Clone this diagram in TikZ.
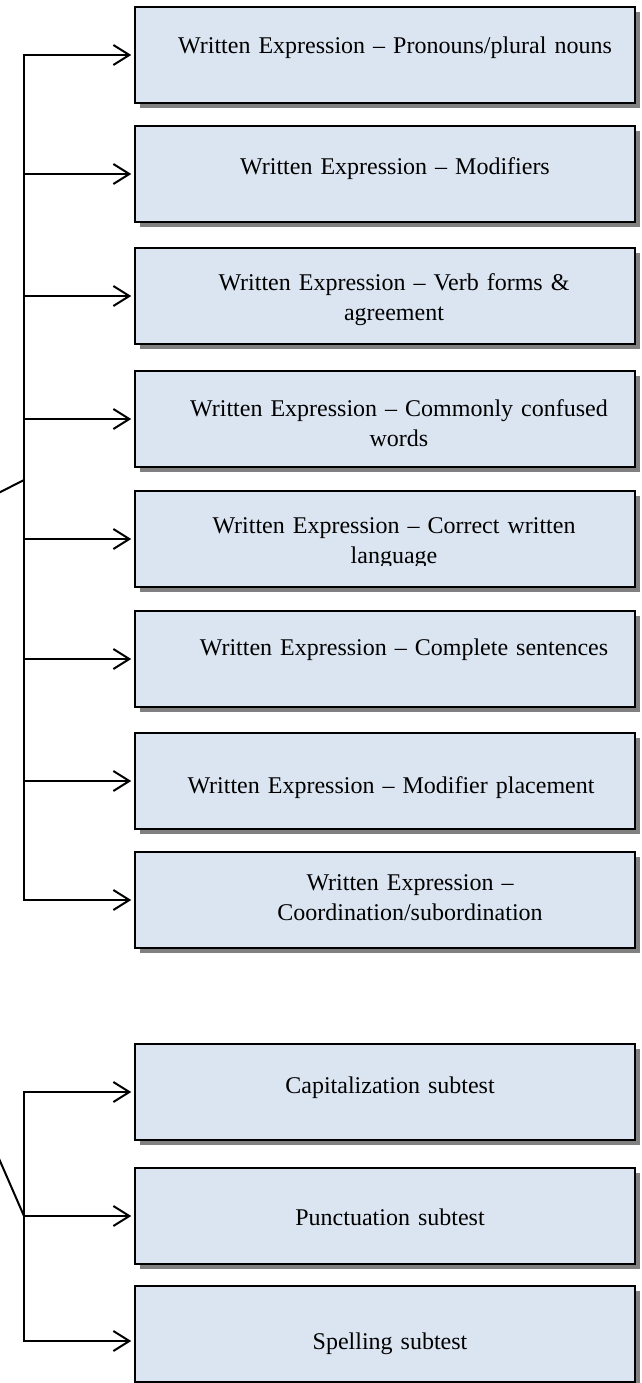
\documentclass[tikz,border=0pt]{standalone}
\usepackage{fontspec}
\setmainfont{Liberation Serif}
\usetikzlibrary{arrows.meta,shadows}

\definecolor{boxblue}{RGB}{219,229,241}
\definecolor{shadowgray}{RGB}{128,128,128}

\tikzset{
  box/.style={draw=black, line width=1.5pt, fill=boxblue,
    minimum width=500pt, minimum height=96pt, inner sep=0pt,
    drop shadow={shadow xshift=5pt, shadow yshift=-5pt, fill=shadowgray, opacity=1}},
  txt/.style={font=\fontsize{24}{30}\selectfont, text width=490pt,
    align=center, anchor=base, inner sep=0pt},
  link/.style={line width=2pt, line join=miter},
  arr/.style={link, shorten >=3pt,
    -{Straight Barb[length=16pt,width=20pt,line width=2pt]}},
}

\begin{document}
\begin{tikzpicture}[x=1pt,y=-1pt]
\useasboundingbox (0,0) rectangle (642,1383);

% ---- upper group: written expression boxes
\node[box] (b1) at (385,55)  {};
\node[box] (b2) at (385,174) {};
\node[box] (b3) at (385,296) {};
\node[box] (b4) at (385,419) {};
\node[box] (b5) at (385,539) {};
\node[box] (b6) at (385,659) {};
\node[box] (b7) at (385,781) {};
\node[box] (b8) at (385,900) {};

\node[txt] (t1) at (395,54)  {Written Expression – Pronouns/plural nouns};
\node[txt] (t2) at (395,175) {Written Expression – Modifiers};
\node[txt] (t3) at (394,290) {Written Expression – Verb forms \&\\agreement};
\node[txt] (t4) at (399,416) {Written Expression – Commonly confused\\words};
\begin{scope}
  \clip (135,490) rectangle (635,565);
  \node[txt] (t5) at (394,533) {Written Expression – Correct written\\language};
\end{scope}
\node[txt] (t6) at (404,655) {Written Expression – Complete sentences};
\node[txt] (t7) at (391,793) {Written Expression – Modifier placement};
\node[txt] (t8) at (410,890) {Written Expression –\\Coordination/subordination};

% ---- lower group: subtests
\node[box] (bA) at (385,1092) {};
\node[box] (bB) at (385,1216) {};
\node[box] (bC) at (385,1334) {};

\node[txt] (tA) at (390,1093) {Capitalization subtest};
\node[txt] (tB) at (390,1225) {Punctuation subtest};
\node[txt] (tC) at (390,1349) {Spelling subtest};

% ---- connectors
\coordinate (spT) at (24,0);
\coordinate (spB) at (24,1000);
\coordinate (jT) at (24,480);
\coordinate (pT) at (-20,502.4);
\coordinate (pB) at (-10,1138);
\path ([yshift=-7pt]bC.west) coordinate (eC);

\draw[arr] (b8.west -| spT) -- (b1.west -| spT) -- (b1.west);
\foreach \k in {2,...,7} \draw[arr] (b\k.west -| spT) -- (b\k.west);
\draw[arr] (b1.west -| spT) -- (b8.west -| spT) -- (b8.west);
\draw[link] (pT) -- (jT);

\draw[arr] (eC -| spB) -- (bA.west -| spB) -- (bA.west);
\draw[arr] (bB.west -| spB) -- (bB.west);
\draw[arr] (bA.west -| spB) -- (eC -| spB) -- (eC);
\draw[link] (pB) -- (bB.west -| spB);
\end{tikzpicture}
\end{document}
